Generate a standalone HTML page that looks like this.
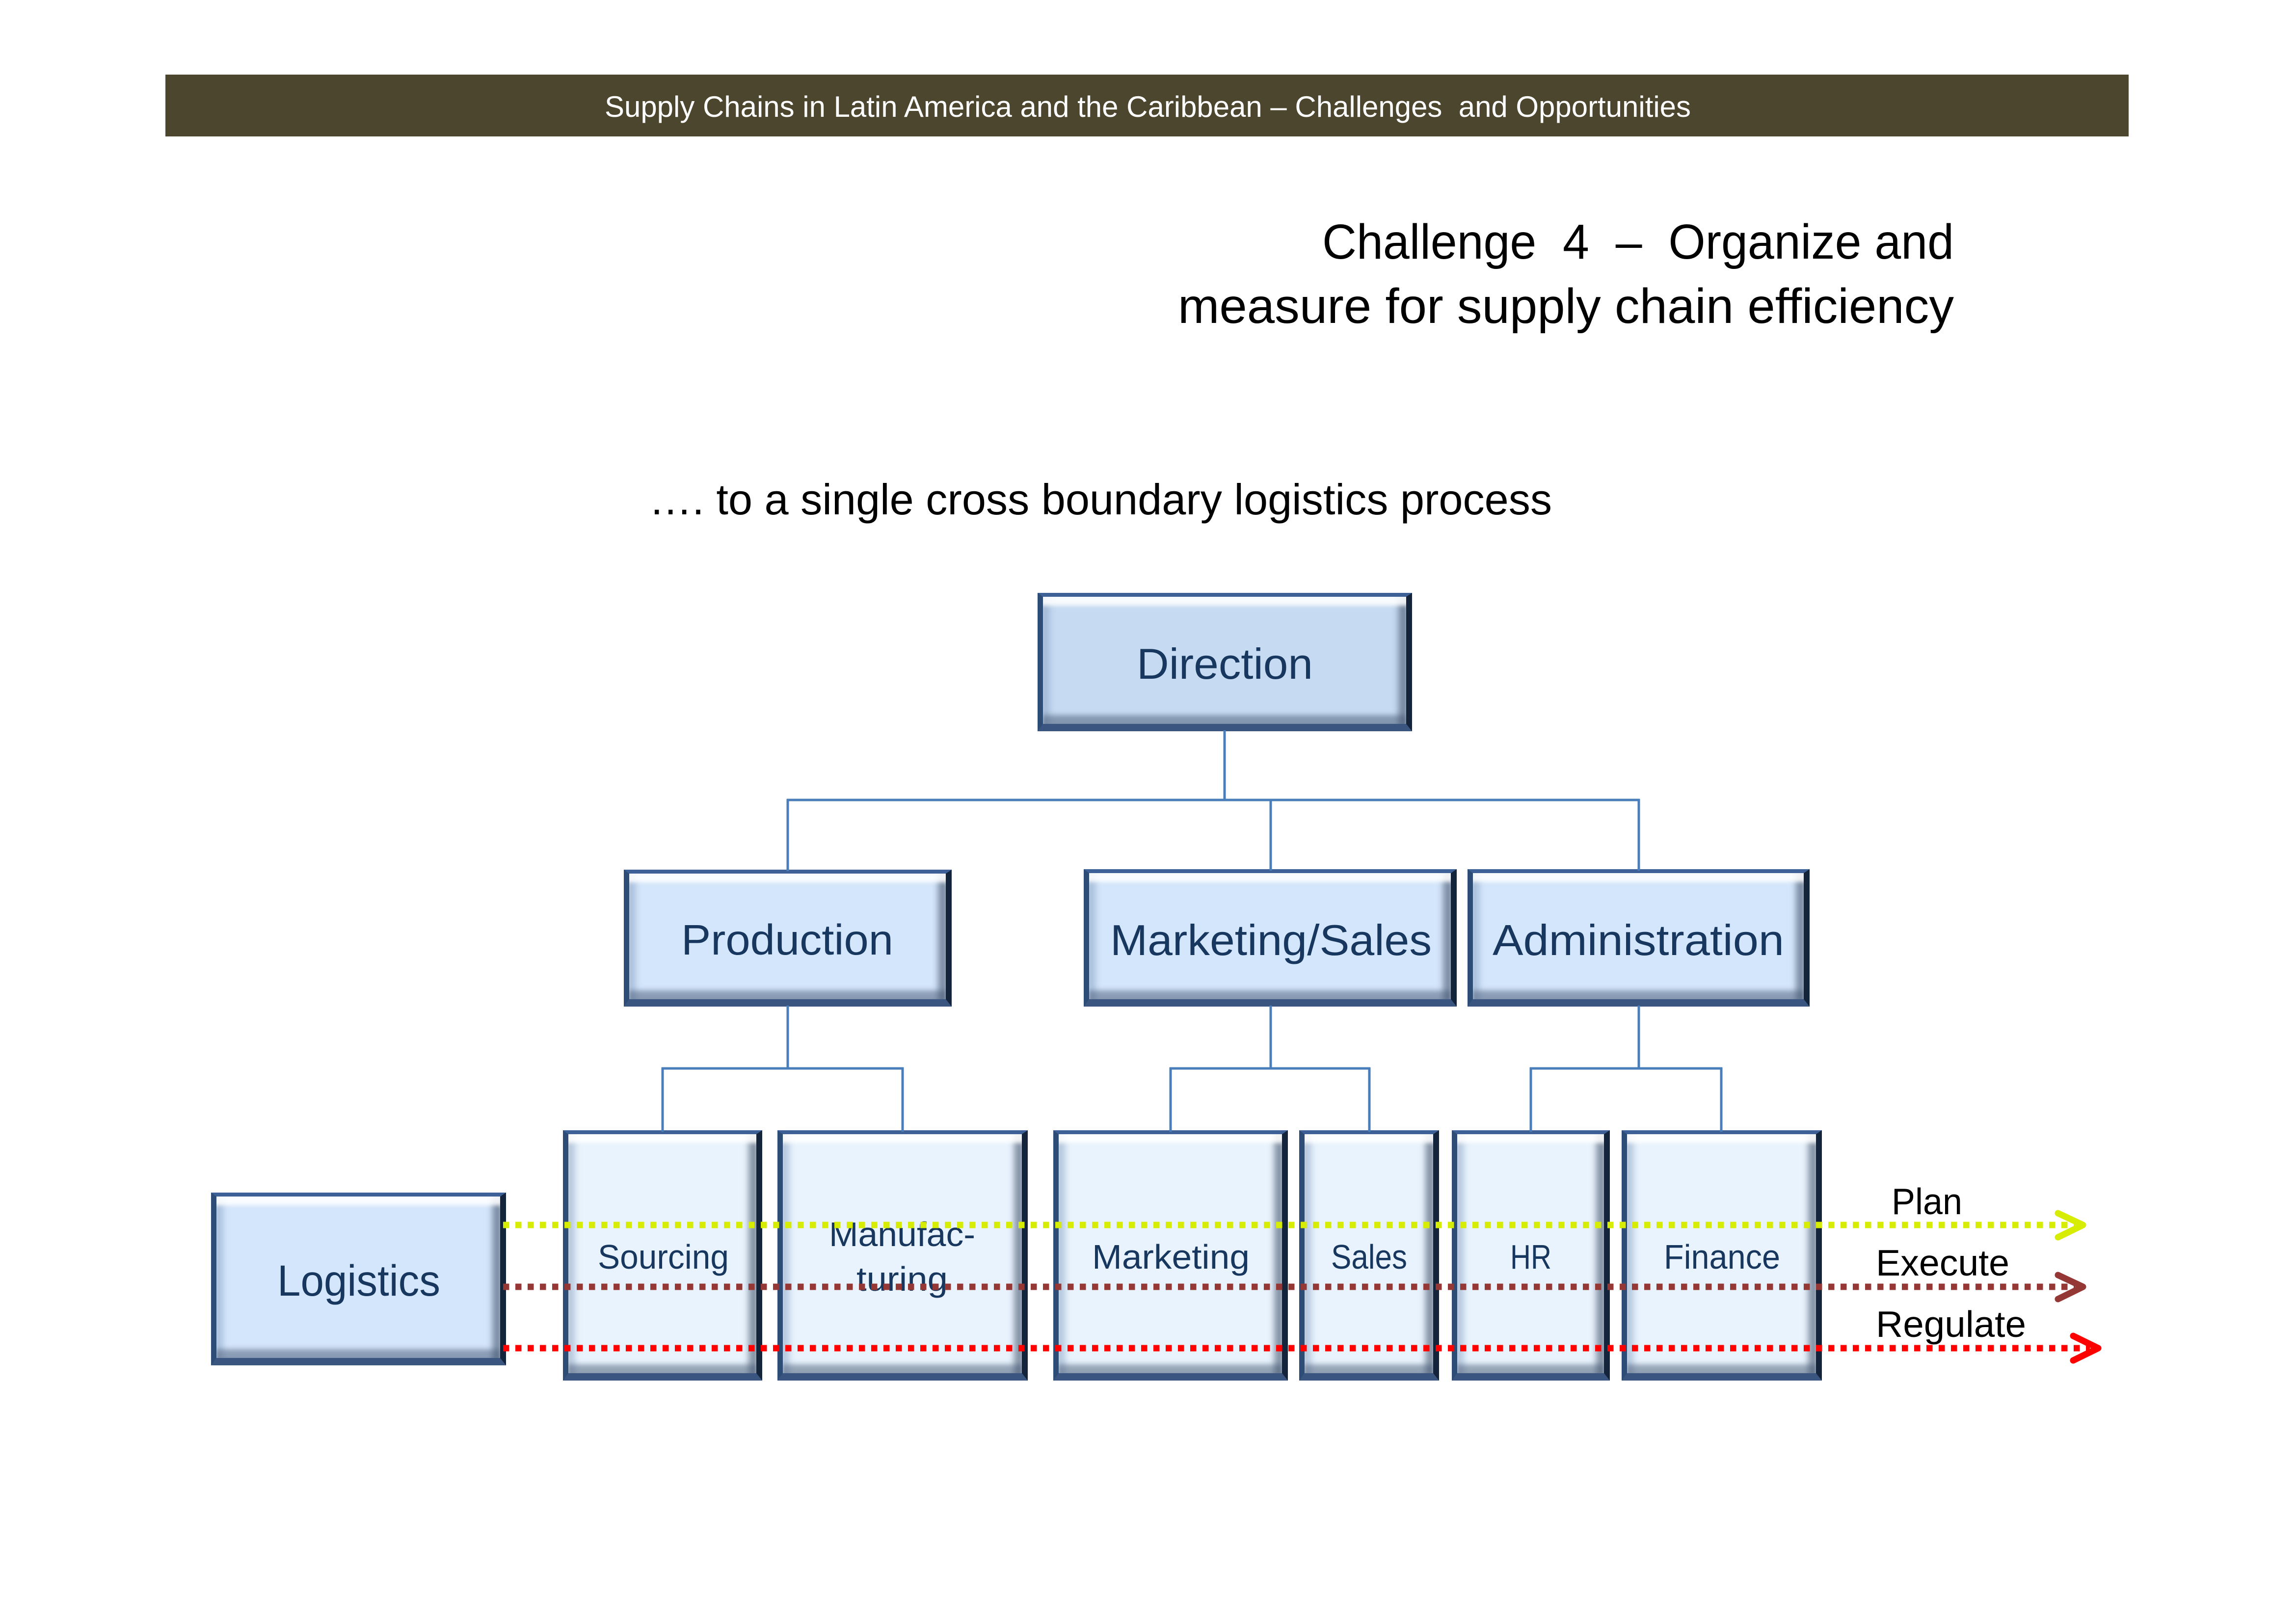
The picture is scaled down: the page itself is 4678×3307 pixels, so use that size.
<!DOCTYPE html>
<html>
<head>
<meta charset="utf-8">
<style>
html,body{margin:0;padding:0;background:#fff;}
#page{position:relative;width:4678px;height:3307px;overflow:hidden;background:#fff;}
.hdr{position:absolute;left:337px;top:152px;width:4000px;height:126px;background:#4c462e;}
.b{position:absolute;box-sizing:border-box;border-style:solid;border-width:8px 12px 15px 11px;
   border-color:#3d6196 #14243a #3a5680 #2d4d76;
   box-shadow: inset 0 20px 8px -2px rgba(255,255,255,0.88),
               inset 0 -22px 10px -4px rgba(70,88,115,0.50),
               inset 20px 0 12px -6px rgba(110,140,180,0.38),
               inset -22px 0 12px -6px rgba(55,72,98,0.55);}
.d{background:#c6dbf1;}
.m{background:#d4e6fb;}
.s{background:#e8f3fd;}
svg{position:absolute;left:0;top:0;}
text{font-family:"Liberation Sans",Arial,sans-serif;white-space:pre;}
.bt{fill:#17375e;}
</style>
</head>
<body>
<div id="page">
  <div class="hdr"></div>

  <div class="b d" style="left:2114px;top:1208px;width:763px;height:282px;"></div>
  <div class="b m" style="left:1271px;top:1772px;width:668px;height:279px;"></div>
  <div class="b m" style="left:2208px;top:1771px;width:760px;height:280px;"></div>
  <div class="b m" style="left:2990px;top:1771px;width:697px;height:280px;"></div>
  <div class="b m" style="left:430px;top:2430px;width:601px;height:352px;"></div>

  <div class="b s" style="left:1147px;top:2303px;width:406px;height:510px;"></div>
  <div class="b s" style="left:1584px;top:2303px;width:510px;height:510px;"></div>
  <div class="b s" style="left:2146px;top:2303px;width:478px;height:510px;"></div>
  <div class="b s" style="left:2647px;top:2303px;width:285px;height:510px;"></div>
  <div class="b s" style="left:2958px;top:2303px;width:322px;height:510px;"></div>
  <div class="b s" style="left:3304px;top:2303px;width:408px;height:510px;"></div>

  <svg width="4678" height="3307" viewBox="0 0 4678 3307" xmlns="http://www.w3.org/2000/svg">
    <!-- header text -->
    <text x="1232" y="238" font-size="60" fill="#ffffff" textLength="2213" lengthAdjust="spacingAndGlyphs">Supply Chains in Latin America and the Caribbean – Challenges  and Opportunities</text>

    <!-- title -->
    <text x="2694" y="527" font-size="100" fill="#000" textLength="1287" lengthAdjust="spacingAndGlyphs">Challenge  4  –  Organize and</text>
    <text x="2400" y="658" font-size="100" fill="#000" textLength="1581" lengthAdjust="spacingAndGlyphs">measure for supply chain efficiency</text>

    <!-- subtitle -->
    <text x="1322" y="1048" font-size="88" fill="#000" textLength="1840" lengthAdjust="spacingAndGlyphs">…. to a single cross boundary logistics process</text>

    <!-- connectors -->
    <g stroke="#4a7ebb" stroke-width="5" fill="none">
      <line x1="2495" y1="1488" x2="2495" y2="1630"/>
      <line x1="1603" y1="1630" x2="3341" y2="1630"/>
      <line x1="1605" y1="1628" x2="1605" y2="1775"/>
      <line x1="2589" y1="1628" x2="2589" y2="1774"/>
      <line x1="3339" y1="1628" x2="3339" y2="1774"/>

      <line x1="1605" y1="2049" x2="1605" y2="2177"/>
      <line x1="1348" y1="2177" x2="1841" y2="2177"/>
      <line x1="1350" y1="2175" x2="1350" y2="2306"/>
      <line x1="1839" y1="2175" x2="1839" y2="2306"/>

      <line x1="2589" y1="2049" x2="2589" y2="2177"/>
      <line x1="2383" y1="2177" x2="2792" y2="2177"/>
      <line x1="2385" y1="2175" x2="2385" y2="2306"/>
      <line x1="2790" y1="2175" x2="2790" y2="2306"/>

      <line x1="3339" y1="2049" x2="3339" y2="2177"/>
      <line x1="3117" y1="2177" x2="3509" y2="2177"/>
      <line x1="3119" y1="2175" x2="3119" y2="2306"/>
      <line x1="3507" y1="2175" x2="3507" y2="2306"/>
    </g>

    <!-- box labels -->
    <text class="bt" x="2316" y="1383" font-size="88" textLength="359" lengthAdjust="spacingAndGlyphs">Direction</text>
    <text class="bt" x="1388" y="1945" font-size="87" textLength="432" lengthAdjust="spacingAndGlyphs">Production</text>
    <text class="bt" x="2262" y="1946" font-size="88" textLength="655" lengthAdjust="spacingAndGlyphs">Marketing/Sales</text>
    <text class="bt" x="3041" y="1946" font-size="88" textLength="594" lengthAdjust="spacingAndGlyphs">Administration</text>
    <text class="bt" x="565" y="2640" font-size="89" textLength="332" lengthAdjust="spacingAndGlyphs">Logistics</text>

    <text class="bt" x="1218" y="2585" font-size="70" textLength="267" lengthAdjust="spacingAndGlyphs">Sourcing</text>
    <text class="bt" x="1689" y="2539" font-size="70" textLength="298" lengthAdjust="spacingAndGlyphs">Manufac-</text>
    <text class="bt" x="1745" y="2630" font-size="70" textLength="186" lengthAdjust="spacingAndGlyphs">turing</text>
    <text class="bt" x="2225" y="2585" font-size="70" textLength="321" lengthAdjust="spacingAndGlyphs">Marketing</text>
    <text class="bt" x="2712" y="2585" font-size="70" textLength="155" lengthAdjust="spacingAndGlyphs">Sales</text>
    <text class="bt" x="3077" y="2585" font-size="70" textLength="84" lengthAdjust="spacingAndGlyphs">HR</text>
    <text class="bt" x="3390" y="2585" font-size="70" textLength="237" lengthAdjust="spacingAndGlyphs">Finance</text>

    <!-- dotted process lines -->
    <g fill="none" stroke-width="13">
      <line x1="1025" y1="2496" x2="4228" y2="2496" stroke="#d6ec00" stroke-dasharray="12.5 12.5"/>
      <line x1="1025" y1="2622" x2="4228" y2="2622" stroke="#953735" stroke-dasharray="12.5 12.5"/>
      <line x1="1025" y1="2747" x2="4258" y2="2747" stroke="#ff0000" stroke-dasharray="12.5 12.5"/>
    </g>
    <g fill="none" stroke-width="13" stroke-linecap="round" stroke-linejoin="round">
      <path d="M4193,2472 L4244,2496 L4193,2521" stroke="#d6ec00"/>
      <path d="M4193,2598 L4244,2622 L4193,2647" stroke="#953735"/>
      <path d="M4224,2722 L4275,2747 L4224,2772" stroke="#ff0000"/>
    </g>

    <!-- line labels -->
    <text x="3854" y="2474" font-size="75" fill="#000" textLength="144" lengthAdjust="spacingAndGlyphs">Plan</text>
    <text x="3822" y="2599" font-size="75" fill="#000" textLength="272" lengthAdjust="spacingAndGlyphs">Execute</text>
    <text x="3822" y="2724" font-size="75" fill="#000" textLength="306" lengthAdjust="spacingAndGlyphs">Regulate</text>
  </svg>
</div>
</body>
</html>
